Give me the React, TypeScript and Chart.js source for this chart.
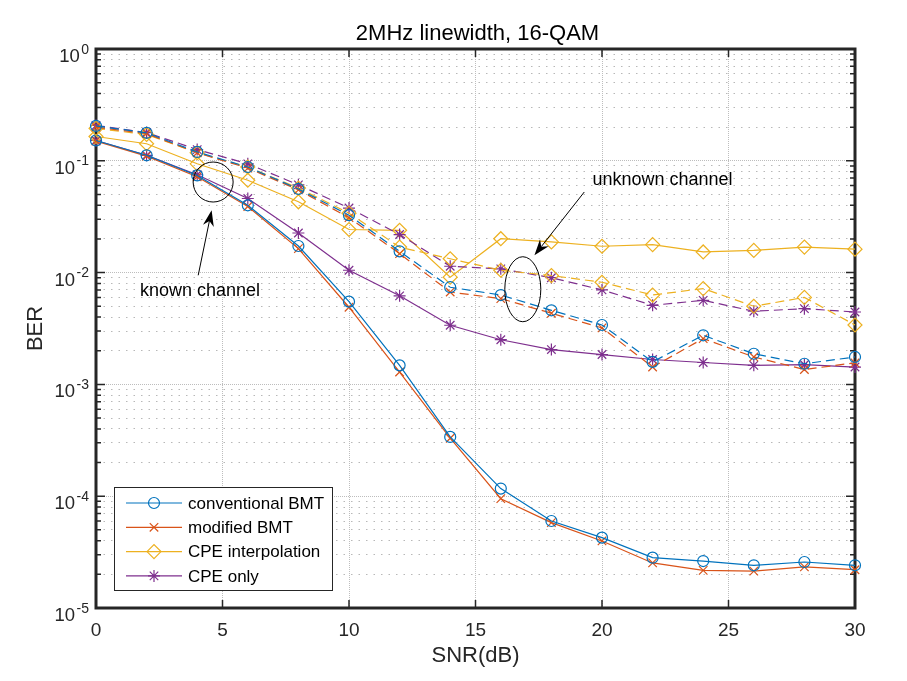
import React, { useEffect, useRef } from 'react';
import { Chart, registerables } from 'chart.js';

Chart.register(...registerables);

const FONT = '"Liberation Sans", Arial, Helvetica, sans-serif';
const AXIS_COLOR = '#262626';

// ---------------- data ----------------
const snr = [0, 2, 4, 6, 8, 10, 12, 14, 16, 18, 20, 22, 24, 26, 28, 30];

// known channel (solid lines)
const convBmtKnown = [0.152, 0.112, 0.074, 0.04, 0.0173, 0.0055, 0.00148, 3.39e-4, 1.17e-4, 6.0e-5, 4.26e-5, 2.82e-5, 2.63e-5, 2.41e-5, 2.58e-5, 2.41e-5];
const modBmtKnown = [0.15, 0.11, 0.072, 0.039, 0.0164, 0.0049, 0.00129, 3.3e-4, 9.5e-5, 5.8e-5, 3.98e-5, 2.53e-5, 2.17e-5, 2.14e-5, 2.33e-5, 2.2e-5];
const cpeInterpKnown = [0.165, 0.142, 0.094, 0.067, 0.043, 0.0243, 0.0239, 0.0091, 0.0201, 0.0188, 0.0172, 0.0178, 0.0153, 0.0158, 0.0169, 0.0162];
const cpeOnlyKnown = [0.152, 0.112, 0.075, 0.046, 0.0226, 0.0105, 0.0062, 0.00338, 0.00251, 0.00205, 0.00185, 0.00167, 0.00157, 0.00148, 0.0015, 0.00143];

// unknown channel (dashed lines)
const convBmtUnknown = [0.205, 0.178, 0.12, 0.088, 0.056, 0.0326, 0.0155, 0.0074, 0.0063, 0.0046, 0.0034, 0.00159, 0.00275, 0.00188, 0.00153, 0.00176];
const modBmtUnknown = [0.2, 0.175, 0.118, 0.086, 0.055, 0.031, 0.0148, 0.0067, 0.00585, 0.00433, 0.0032, 0.00143, 0.00257, 0.00176, 0.00136, 0.00156];
const cpeInterpUnknown = [0.195, 0.172, 0.118, 0.088, 0.057, 0.034, 0.0169, 0.0133, 0.0105, 0.0094, 0.0082, 0.0063, 0.0072, 0.005, 0.006, 0.0034];
const cpeOnlyUnknown = [0.207, 0.179, 0.126, 0.094, 0.061, 0.0378, 0.0219, 0.0114, 0.0108, 0.009, 0.007, 0.0051, 0.00565, 0.00451, 0.00476, 0.00444];

const seriesLabels = ['conventional BMT', 'modified BMT', 'CPE interpolation', 'CPE only'];
const seriesColors = ['#0072BD', '#D95319', '#EDB120', '#7E2F8E'];
const seriesMarkers = ['circle', 'crossRot', 'rectRot', 'star'];
const markerRadius = [5.5, 6, 7, 6];

const xTickValues = [0, 5, 10, 15, 20, 25, 30];
const yDecadeExponents = [0, -1, -2, -3, -4, -5];

const titleText = '2MHz linewidth, 16-QAM';
const xAxisTitle = 'SNR(dB)';
const yAxisTitle = 'BER';

const knownNote = { text: 'known channel', textAt: [1.74, 0.00685], ellipseAt: [4.63, 0.0646], rx: 20, ry: 20, arrowFrom: [4.04, 0.00946], arrowTo: [4.57, 0.0361] };
const unknownNote = { text: 'unknown channel', textAt: [19.62, 0.0669], ellipseAt: [16.87, 0.0071], rx: 18, ry: 32.5, arrowFrom: [19.3, 0.0526], arrowTo: [17.33, 0.01428] };

// ---------------- helpers ----------------
const isDecade = (v: number) => {
  const l = Math.log10(v);
  return Math.abs(l - Math.round(l)) < 1e-6;
};

const yGridValues: number[] = (() => {
  const out: number[] = [];
  for (let e = -5; e < 0; e++) {
    for (let m = 1; m <= 9; m++) out.push(m * Math.pow(10, e));
  }
  out.push(1);
  return out;
})();

function drawMarker(ctx: CanvasRenderingContext2D, style: string, x: number, y: number, r: number, color: string) {
  ctx.save();
  ctx.strokeStyle = color;
  ctx.lineWidth = 1.2;
  ctx.beginPath();
  const d = r * Math.SQRT1_2;
  if (style === 'circle') {
    ctx.arc(x, y, r, 0, Math.PI * 2);
  } else if (style === 'crossRot') {
    ctx.moveTo(x - d, y - d); ctx.lineTo(x + d, y + d);
    ctx.moveTo(x - d, y + d); ctx.lineTo(x + d, y - d);
  } else if (style === 'rectRot') {
    ctx.moveTo(x - r, y); ctx.lineTo(x, y - r); ctx.lineTo(x + r, y); ctx.lineTo(x, y + r); ctx.closePath();
  } else {
    ctx.moveTo(x - r, y); ctx.lineTo(x + r, y);
    ctx.moveTo(x, y - r); ctx.lineTo(x, y + r);
    ctx.moveTo(x - d, y - d); ctx.lineTo(x + d, y + d);
    ctx.moveTo(x - d, y + d); ctx.lineTo(x + d, y - d);
  }
  ctx.stroke();
  ctx.restore();
}

function drawArrow(ctx: CanvasRenderingContext2D, x1: number, y1: number, x2: number, y2: number) {
  const ang = Math.atan2(y2 - y1, x2 - x1);
  const len = 16, half = 5.5, notch = 11;
  ctx.beginPath();
  ctx.moveTo(x1, y1);
  ctx.lineTo(x2 - Math.cos(ang) * notch, y2 - Math.sin(ang) * notch);
  ctx.stroke();
  const bx = x2 - Math.cos(ang) * len, by = y2 - Math.sin(ang) * len;
  const nx = -Math.sin(ang), ny = Math.cos(ang);
  ctx.beginPath();
  ctx.moveTo(x2, y2);
  ctx.lineTo(bx + nx * half, by + ny * half);
  ctx.lineTo(x2 - Math.cos(ang) * notch, y2 - Math.sin(ang) * notch);
  ctx.lineTo(bx - nx * half, by - ny * half);
  ctx.closePath();
  ctx.fill();
}

const framePlugin = {
  id: 'matlabFrame',
  beforeDatasetsDraw(chart: any) {
    const { ctx, chartArea: a } = chart;
    const xs = chart.scales.x, ys = chart.scales.y;
    ctx.save();
    ctx.strokeStyle = AXIS_COLOR;
    ctx.lineWidth = 1.5;
    ctx.beginPath();
    ys.ticks.forEach((t: any) => {
      const py = ys.getPixelForValue(t.value);
      const len = isDecade(t.value) ? 9 : 5;
      ctx.moveTo(a.left, py); ctx.lineTo(a.left + len, py);
      ctx.moveTo(a.right, py); ctx.lineTo(a.right - len, py);
    });
    xTickValues.forEach((v) => {
      const px = xs.getPixelForValue(v);
      ctx.moveTo(px, a.bottom); ctx.lineTo(px, a.bottom - 8);
      ctx.moveTo(px, a.top); ctx.lineTo(px, a.top + 8);
    });
    ctx.stroke();
    ctx.lineWidth = 3;
    ctx.strokeRect(a.left, a.top, a.right - a.left, a.bottom - a.top);
    ctx.restore();
  },
  afterDatasetsDraw(chart: any) {
    const { ctx } = chart;
    const xs = chart.scales.x, ys = chart.scales.y;
    ctx.save();
    ctx.strokeStyle = '#000';
    ctx.fillStyle = '#000';
    ctx.lineWidth = 1;
    [knownNote, unknownNote].forEach((n) => {
      const cx = xs.getPixelForValue(n.ellipseAt[0]);
      const cy = ys.getPixelForValue(n.ellipseAt[1]);
      ctx.beginPath();
      ctx.ellipse(cx, cy, n.rx, n.ry, 0, 0, Math.PI * 2);
      ctx.stroke();
      drawArrow(ctx, xs.getPixelForValue(n.arrowFrom[0]), ys.getPixelForValue(n.arrowFrom[1]),
        xs.getPixelForValue(n.arrowTo[0]), ys.getPixelForValue(n.arrowTo[1]));
      ctx.font = `18px ${FONT}`;
      ctx.textAlign = 'left';
      ctx.textBaseline = 'middle';
      ctx.fillText(n.text, xs.getPixelForValue(n.textAt[0]), ys.getPixelForValue(n.textAt[1]));
    });
    ctx.restore();
  },
  afterDraw(chart: any) {
    const { ctx, chartArea: a } = chart;
    const ys = chart.scales.y;
    ctx.save();
    // title
    ctx.fillStyle = '#000';
    ctx.font = `22px ${FONT}`;
    ctx.textAlign = 'center';
    ctx.textBaseline = 'alphabetic';
    ctx.fillText(titleText, (a.left + a.right) / 2 + 2, 40);
    // x axis title
    ctx.fillStyle = AXIS_COLOR;
    ctx.fillText(xAxisTitle, (a.left + a.right) / 2, 662);
    // y axis title
    ctx.save();
    ctx.translate(42, (a.top + a.bottom) / 2);
    ctx.rotate(-Math.PI / 2);
    ctx.textAlign = 'center';
    ctx.fillText(yAxisTitle, 0, 0);
    ctx.restore();
    // y tick labels 10^e
    const rightEdge = a.left - 7;
    yDecadeExponents.forEach((e) => {
      const py = ys.getPixelForValue(Math.pow(10, e));
      const exp = String(e);
      ctx.font = `14px ${FONT}`;
      ctx.textAlign = 'right';
      const ew = ctx.measureText(exp).width;
      ctx.fillText(exp, rightEdge, py + 4.5);
      ctx.font = `18.5px ${FONT}`;
      ctx.fillText('10', rightEdge - ew - 1.5, py + 13);
    });
    // legend
    const lx = a.left + 18, lw = 218, lh = 103;
    const ly = a.bottom - 18 - lh;
    ctx.fillStyle = '#fff';
    ctx.fillRect(lx, ly, lw, lh);
    ctx.strokeStyle = AXIS_COLOR;
    ctx.lineWidth = 1;
    ctx.strokeRect(lx + 0.5, ly + 0.5, lw, lh);
    seriesLabels.forEach((label, i) => {
      const cy = ly + 16 + i * 24.3;
      ctx.strokeStyle = seriesColors[i];
      ctx.lineWidth = 1.2;
      ctx.beginPath();
      ctx.moveTo(lx + 12, cy); ctx.lineTo(lx + 68, cy);
      ctx.stroke();
      drawMarker(ctx, seriesMarkers[i], lx + 40, cy, markerRadius[i], seriesColors[i]);
      ctx.fillStyle = '#000';
      ctx.font = `17px ${FONT}`;
      ctx.textAlign = 'left';
      ctx.textBaseline = 'middle';
      ctx.fillText(label, lx + 74, cy + 1);
    });
    ctx.restore();
  },
};

function makeDataset(values: number[], i: number, dashed: boolean) {
  return {
    label: seriesLabels[i] + (dashed ? ' (unknown)' : ''),
    data: snr.map((x, k) => ({ x, y: values[k] })),
    borderColor: seriesColors[i],
    backgroundColor: 'rgba(0,0,0,0)',
    borderWidth: 1.2,
    borderDash: dashed ? [9, 5] : [],
    pointStyle: seriesMarkers[i],
    pointRadius: markerRadius[i],
    pointBorderColor: seriesColors[i],
    pointBackgroundColor: 'rgba(0,0,0,0)',
    pointBorderWidth: 1.2,
    tension: 0,
    fill: false,
    clip: false as any,
  };
}

export default function App() {
  const canvasRef = useRef<HTMLCanvasElement | null>(null);

  useEffect(() => {
    const canvas = canvasRef.current;
    if (!canvas) return;
    const datasets = [
      makeDataset(convBmtUnknown, 0, true),
      makeDataset(modBmtUnknown, 1, true),
      makeDataset(cpeInterpUnknown, 2, true),
      makeDataset(cpeOnlyUnknown, 3, true),
      makeDataset(convBmtKnown, 0, false),
      makeDataset(modBmtKnown, 1, false),
      makeDataset(cpeInterpKnown, 2, false),
      makeDataset(cpeOnlyKnown, 3, false),
    ];
    const chart = new Chart(canvas, {
      type: 'line',
      data: { datasets } as any,
      options: {
        animation: false,
        responsive: false,
        devicePixelRatio: 1,
        layout: { padding: { left: 0, right: 52, top: 49, bottom: 0 } },
        plugins: {
          legend: { display: false },
          title: { display: false },
          tooltip: { enabled: false },
        },
        scales: {
          x: {
            type: 'linear',
            min: 0,
            max: 30,
            afterBuildTicks: (s: any) => { s.ticks = xTickValues.map((v) => ({ value: v })); },
            afterFit: (s: any) => { s.height = 73; },
            ticks: {
              autoSkip: false,
              maxRotation: 0,
              padding: 11,
              color: AXIS_COLOR,
              font: { family: FONT, size: 19 },
            },
            grid: { color: '#bdbdbd', lineWidth: 1, drawTicks: false },
            border: { display: false, dash: [1, 1] },
          },
          y: {
            type: 'logarithmic',
            min: 1e-5,
            max: 1,
            afterBuildTicks: (s: any) => { s.ticks = yGridValues.map((v) => ({ value: v, major: isDecade(v) })); },
            afterFit: (s: any) => { s.width = 96; },
            ticks: { display: false },
            grid: {
              lineWidth: 1,
              drawTicks: false,
              color: (c: any) => (c.tick && isDecade(c.tick.value) ? '#bdbdbd' : '#b8b8b8'),
            },
            border: {
              display: false,
              dash: (c: any) => (c.tick && isDecade(c.tick.value) ? [1, 1] : [1.5, 6]),
            } as any,
          },
        },
      } as any,
      plugins: [framePlugin],
    });
    return () => chart.destroy();
  }, []);

  return (
    <canvas
      ref={canvasRef}
      width={907}
      height={681}
      style={{ position: 'absolute', left: 0, top: 0, display: 'block', background: '#fff' }}
    />
  );
}
